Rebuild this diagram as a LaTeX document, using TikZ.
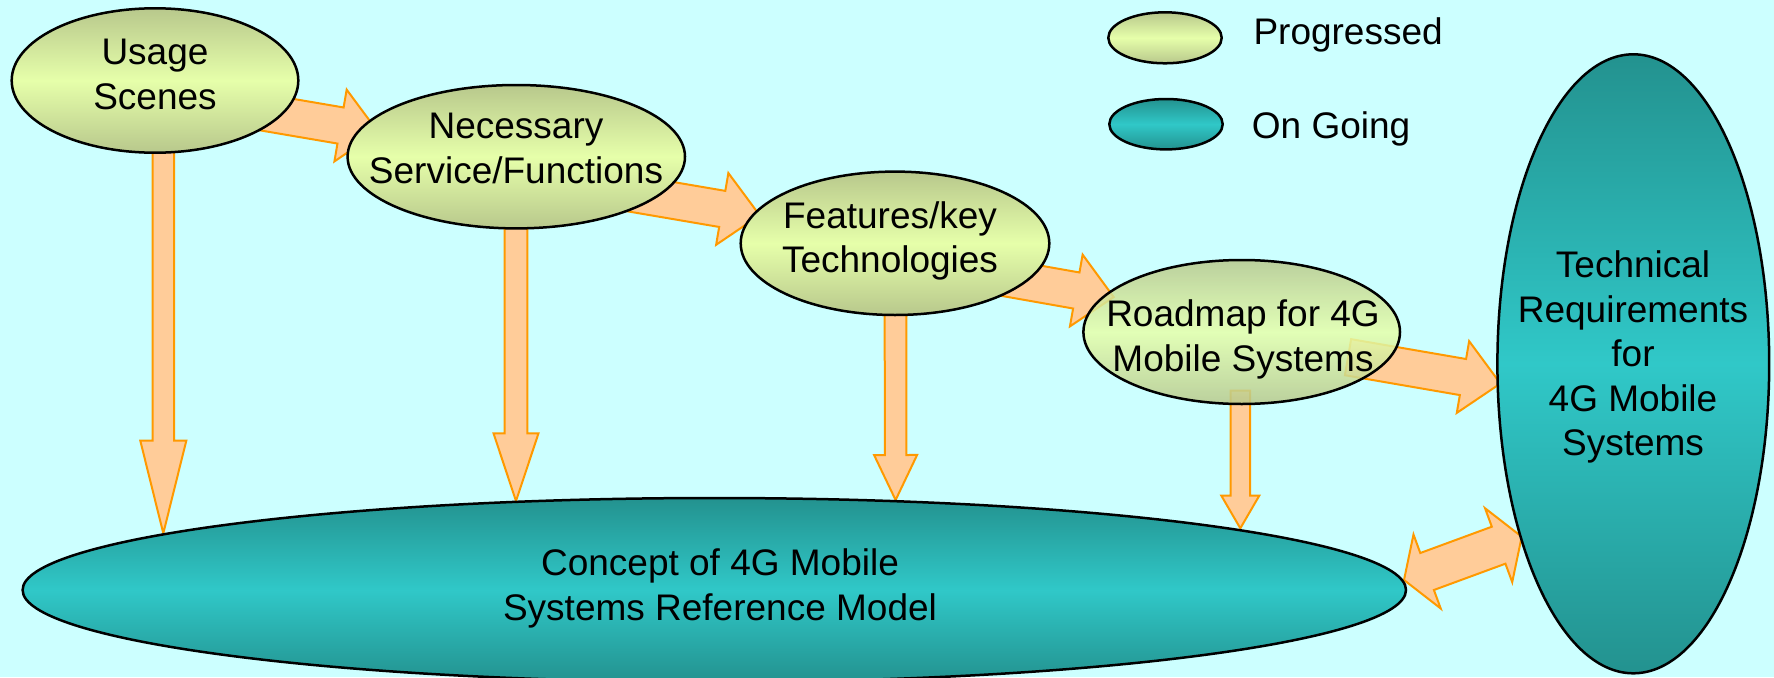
\documentclass[tikz,border=0pt]{standalone}
\usepackage{fontspec}
\setmainfont{Liberation Sans}
\usetikzlibrary{calc,shapes.geometric}

\definecolor{bgcyan}{HTML}{CCFFFF}
\definecolor{olivetop}{RGB}{184,200,140}
\definecolor{olivemid}{RGB}{230,255,170}
\definecolor{tealedge}{RGB}{35,146,143}
\definecolor{tealmid}{RGB}{48,200,200}
\definecolor{peach}{HTML}{FFCC99}
\definecolor{arroworange}{HTML}{FF9900}

\pgfdeclarelayer{bg}
\pgfdeclarelayer{arrows}
\pgfsetlayers{bg,arrows,main}

% block arrow: tail, tip, shaft half-width, head half-width, head length
\newcommand\blockarrow[5]{%
  \draw[fatarrow] ($(#1)!#3!90:(#2)$)
    -- ($(#2)!#5!(#1)!#3!-90:(#1)$)
    -- ($(#2)!#5!(#1)!#4!-90:(#1)$)
    -- (#2)
    -- ($(#2)!#5!(#1)!#4!90:(#1)$)
    -- ($(#2)!#5!(#1)!#3!90:(#1)$)
    -- ($(#1)!#3!-90:(#2)$) -- cycle;}

% two-headed block arrow: tip, tip, shaft half-width, head half-width, head length
\newcommand\twowayarrow[5]{%
  \draw[fatarrow] (#1)
    -- ($(#1)!#5!(#2)!#4!90:(#2)$)
    -- ($(#1)!#5!(#2)!#3!90:(#2)$)
    -- ($(#2)!#5!(#1)!#3!-90:(#1)$)
    -- ($(#2)!#5!(#1)!#4!-90:(#1)$)
    -- (#2)
    -- ($(#2)!#5!(#1)!#4!90:(#1)$)
    -- ($(#2)!#5!(#1)!#3!90:(#1)$)
    -- ($(#1)!#5!(#2)!#3!-90:(#2)$)
    -- ($(#1)!#5!(#2)!#4!-90:(#2)$)
    -- cycle;}

\tikzset{
  fatarrow/.style={fill=peach, draw=arroworange, line width=2pt, line join=miter},
  progressed/.style={ellipse, draw=black, line width=2.5pt, inner sep=0pt,
    top color=olivetop, bottom color=olivetop, middle color=olivemid},
  ongoing/.style={ellipse, draw=black, line width=2.5pt, inner sep=0pt,
    top color=tealedge, bottom color=tealedge, middle color=tealmid},
  label text/.style={align=center, inner sep=0pt,
    font=\fontsize{37}{44.5}\selectfont},
}

\begin{document}
\begin{tikzpicture}[x=1pt, y=-1pt]
\useasboundingbox (0,0) rectangle (1774,677);
\clip (0,0) rectangle (1774,677);
\begin{pgfonlayer}{bg}
  \fill[bgcyan] (0,0) rectangle (1774,677);
\end{pgfonlayer}

% ellipses
\node[ongoing, minimum width=1383.4pt, minimum height=184pt] (concept) at (714.3,590) {};
\node[ongoing, minimum width=271.8pt, minimum height=619pt] (tech) at (1633.3,363.8) {};
\node[progressed, minimum width=286.6pt, minimum height=144.4pt] (usage) at (155,80.5) {};
\node[progressed, minimum width=337.4pt, minimum height=143.4pt] (need) at (516.3,156.7) {};
\node[progressed, minimum width=308.6pt, minimum height=143.4pt] (feat) at (895,243.3) {};
\node[progressed, fill opacity=0.85, minimum width=316.6pt, minimum height=144pt] (road) at (1241.7,332) {};

% legend
\node[progressed, minimum width=113.4pt, minimum height=51pt] (keyprog) at (1165,37.8) {};
\node[ongoing, minimum width=113.4pt, minimum height=50.4pt] (keygoing) at (1166,124.2) {};
\node[label text, anchor=base west] (keyprog-t) at (1253.3,45) {Progressed};
\node[label text, anchor=base west] (keygoing-t) at (1251.7,138.3) {On Going};

% labels
\node[label text] (usage-t) at (155,74.3) {Usage\\Scenes};
\node[label text] (need-t) at (516,148.5) {Necessary\\Service/Functions};
\node[label text] (feat-t) at (890,241.1) {Features/key\\Technologies};
\node[label text] (road-t) at (1243,339.4) {Roadmap for 4G\\Mobile Systems};
\node[label text] (tech-t) at (1633,357) {Technical\\Requirements\\for\\4G Mobile\\Systems};
\node[label text] (concept-t) at (720,588.4) {Concept of 4G Mobile\\Systems Reference Model};

% connector end points
\coordinate (a-tail) at (241.9,108.7);  \coordinate (a-tip) at (378,131.9);
\coordinate (b-tail) at (623.6,192.1);  \coordinate (b-tip) at (759.7,215.3);
\coordinate (c-tail) at (977.8,273.1);  \coordinate (c-tip) at (1113.7,297.1);
\coordinate (d-tail) at (1348,357.2);   \coordinate (d-tip) at (1500.4,383.5);
\coordinate (v1-tail) at (163.3,120);   \coordinate (v1-tip) at (163.3,533.3);
\coordinate (v2-tail) at (516,200);     \coordinate (v2-tip) at (516,501);
\coordinate (v3-tail) at (895.5,280);   \coordinate (v3-tip) at (895.6,500);
\coordinate (v4-tail) at (1240.3,390.7); \coordinate (v4-tip) at (1240.3,528.3);
\coordinate (e-left) at (1404,580);     \coordinate (e-right) at (1521.7,536.7);

\begin{pgfonlayer}{arrows}
  \blockarrow{a-tail}{a-tip}{18.3pt}{36.4pt}{38pt}
  \blockarrow{b-tail}{b-tip}{18.3pt}{36.4pt}{38pt}
  \blockarrow{c-tail}{c-tip}{18.3pt}{36.4pt}{38pt}
  \blockarrow{d-tail}{d-tip}{18.3pt}{36.4pt}{38pt}
  \blockarrow{v1-tail}{v1-tip}{10.7pt}{23pt}{92.6pt}
  \blockarrow{v2-tail}{v2-tip}{11.4pt}{22.5pt}{67.7pt}
  \blockarrow{v3-tail}{v3-tip}{10.8pt}{21.5pt}{45pt}
  \blockarrow{v4-tail}{v4-tip}{9.7pt}{19pt}{32.7pt}
  \twowayarrow{e-left}{e-right}{19.7pt}{39.4pt}{24.6pt}
\end{pgfonlayer}
\end{tikzpicture}
\end{document}
